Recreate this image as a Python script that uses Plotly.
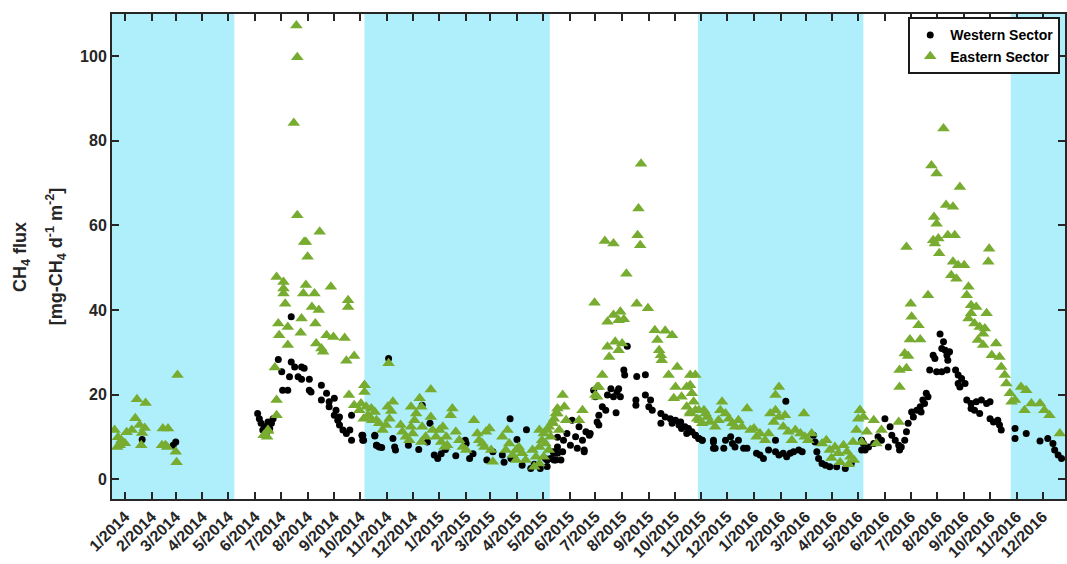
import pandas as pd
import plotly.graph_objects as go

# ---------------- data ----------------
# sampling day = days since 1 Jan 2014, flux in mg-CH4 d-1 m-2
ORIGIN = "2014-01-01"

west_2014a = [(20, 9.4), (59, 8.8), (56, 8.0)]
east_2014a = [(-12, 11.6), (-8, 9.9), (-4, 9.2), (0, 8.5), (-6, 8.0), (2, 11.1), (-9, 7.6),
              (14, 18.9), (24, 18.0), (12, 14.4), (17, 12.8), (23, 12.1), (8, 11.6), (20, 10.9),
              (19, 8.0), (44, 12.0), (50, 12.0), (43, 8.0), (47, 8.0), (49, 7.6), (59, 6.5),
              (60, 4.0), (61, 24.6)]

west_2014s = [(193, 38.4), (178, 28.3), (193, 27.7), (197, 26.5), (205, 26.5), (208, 26.2),
              (182, 25.4), (191, 24.2), (201, 24.2), (205, 23.6), (214, 23.6), (183, 21.0),
              (189, 21.0), (214, 21.0), (216, 20.6), (228, 22.2), (234, 20.3), (228, 18.7),
              (237, 18.3), (243, 19.1), (237, 17.1), (243, 15.1), (247, 13.9), (249, 12.8),
              (253, 11.6), (257, 10.8), (261, 11.6), (263, 15.1), (245, 16.3), (249, 14.7),
              (263, 9.2), (276, 10.4), (276, 9.2), (290, 10.4), (292, 8.0), (154, 15.5),
              (156, 14.3), (158, 13.2), (162, 12.4), (166, 13.5), (170, 13.2), (168, 12.0),
              (160, 11.6), (172, 14.3), (164, 10.8)]
east_2014s = [(199, 107.3), (200, 99.8), (196, 84.2), (200, 62.4), (226, 58.5), (208, 56.1),
              (210, 56.1), (212, 52.6), (176, 47.8), (184, 46.6), (184, 45.1), (184, 43.9),
              (210, 45.9), (207, 43.9), (220, 43.9), (239, 45.5), (259, 42.3), (259, 40.7),
              (186, 41.5), (217, 40.7), (225, 40.0), (178, 36.8), (189, 36.0), (179, 34.0),
              (205, 38.0), (221, 36.8), (204, 34.6), (189, 31.7), (222, 32.1), (228, 30.9),
              (230, 30.1), (234, 34.0), (242, 33.6), (255, 33.4), (257, 28.0), (266, 29.1),
              (174, 26.4), (176, 18.7), (176, 15.1), (166, 11.4), (165, 10.0), (161, 10.4),
              (166, 11.6), (260, 19.9), (278, 22.2), (266, 17.5), (272, 16.3), (282, 15.1),
              (287, 13.9)]

west_2015w = [(306, 28.5), (275, 10.4), (277, 9.2), (290, 10.2), (292, 8.0), (295, 7.6),
              (298, 7.5), (311, 9.6), (313, 7.6), (314, 6.9), (329, 8.0), (341, 7.0),
              (345, 17.5), (351, 8.8), (359, 5.7), (363, 4.9), (354, 13.2), (395, 9.2),
              (396, 8.4), (400, 4.9), (427, 6.5), (447, 14.3), (466, 11.7), (455, 9.4),
              (438, 5.7), (448, 4.9), (461, 3.3), (471, 2.5), (482, 2.5), (488, 4.9),
              (498, 4.5), (502, 6.1), (502, 9.9), (367, 6.0), (372, 7.0), (384, 5.5),
              (404, 6.0), (420, 4.5), (440, 4.0), (475, 3.5), (490, 3.0)]
east_2015w = [(278, 22.2), (278, 20.6), (274, 17.9), (280, 17.1), (286, 16.7), (290, 15.9),
              (284, 14.7), (292, 13.9), (277, 14.3), (295, 13.2), (299, 11.6), (303, 12.8),
              (307, 14.3), (309, 16.1), (311, 18.3), (305, 17.1), (306, 27.4), (320, 12.8),
              (322, 11.2), (326, 10.0), (330, 9.2), (334, 10.8), (332, 12.4), (336, 13.9),
              (338, 15.5), (332, 17.1), (342, 19.1), (344, 17.1), (345, 12.4), (349, 10.0),
              (344, 8.8), (355, 21.2), (355, 14.7), (357, 11.6), (361, 10.0), (367, 8.8),
              (365, 11.6), (369, 12.4), (373, 10.0), (374, 8.0), (371, 7.6), (380, 16.7),
              (378, 15.1), (384, 11.2), (388, 9.2), (392, 7.6), (396, 6.9), (405, 13.9),
              (409, 10.8), (411, 9.2), (415, 8.4), (419, 11.2), (423, 12.0), (417, 7.6),
              (425, 6.9), (427, 4.1), (438, 10.0), (444, 11.6), (446, 8.4), (442, 6.9),
              (450, 5.7), (454, 6.9), (457, 7.6), (461, 6.1), (465, 4.5), (454, 4.5),
              (473, 6.9), (477, 5.3), (481, 3.7), (475, 2.9), (481, 11.6), (486, 10.8),
              (492, 12.4), (496, 13.2), (498, 14.3), (500, 15.5), (502, 16.7), (494, 10.0),
              (488, 8.4)]

west_2015s = [(583, 31.4), (579, 25.8), (580, 24.6), (594, 24.3), (604, 24.7), (564, 21.4),
              (573, 21.4), (560, 19.9), (567, 19.5), (575, 19.5), (571, 20.6), (544, 21.0),
              (546, 19.5), (604, 19.9), (610, 18.7), (608, 17.1), (612, 16.3), (593, 18.7),
              (593, 17.5), (554, 17.1), (558, 16.3), (550, 15.1), (548, 13.5), (550, 12.8),
              (570, 15.7), (622, 15.5), (627, 14.7), (633, 14.3), (639, 13.9), (635, 13.2),
              (643, 12.8), (646, 12.0), (650, 12.4), (656, 11.2), (662, 10.4), (666, 9.6),
              (670, 9.2), (622, 13.2), (645, 13.5), (652, 10.8), (519, 13.9), (527, 12.4),
              (535, 11.2), (513, 10.8), (523, 10.0), (531, 9.2), (539, 10.4), (509, 9.2),
              (517, 8.0), (525, 7.3), (502, 7.6), (508, 6.5), (498, 6.1), (494, 4.9),
              (490, 4.5), (506, 4.5), (533, 6.5), (540, 10.8), (683, 8.8), (683, 7.3),
              (533, 6.9), (497, 6.5), (500, 4.5)]
east_2015s = [(599, 74.6), (596, 64.0), (557, 56.3), (567, 55.7), (595, 57.7), (598, 55.3),
              (582, 48.6), (545, 41.7), (594, 41.5), (607, 40.4), (560, 37.2), (567, 38.8),
              (575, 39.6), (579, 37.8), (573, 37.6), (615, 35.2), (627, 35.1), (635, 34.0),
              (618, 32.9), (620, 30.5), (623, 28.1), (622, 29.3), (560, 31.3), (569, 32.5),
              (577, 32.1), (562, 28.9), (573, 30.5), (554, 24.6), (550, 21.8), (548, 19.5),
              (641, 26.5), (631, 24.6), (656, 24.6), (639, 21.8), (652, 21.8), (637, 19.1),
              (646, 19.5), (652, 17.1), (656, 15.5), (666, 16.3), (674, 15.5), (667, 13.9),
              (508, 19.9), (510, 17.1), (502, 15.5), (496, 13.5), (490, 11.6), (484, 9.2),
              (481, 7.6), (531, 16.3), (527, 13.9), (512, 13.9), (504, 11.6), (492, 6.9),
              (486, 5.3), (546, 19.9), (548, 21.8)]

west_2016w = [(654, 12.0), (658, 11.2), (662, 10.4), (666, 9.6), (670, 9.2), (683, 9.2),
              (685, 7.3), (695, 7.3), (697, 9.2), (703, 10.0), (705, 8.4), (708, 7.6),
              (712, 9.2), (718, 7.3), (722, 7.3), (767, 18.4), (733, 6.1), (737, 5.7),
              (741, 4.9), (747, 6.9), (755, 6.5), (759, 5.7), (764, 6.1), (768, 5.3),
              (772, 6.1), (776, 6.5), (782, 6.9), (786, 6.5), (799, 10.4), (801, 8.8),
              (803, 6.5), (805, 4.9), (809, 3.7), (813, 3.3), (818, 2.9), (826, 2.9),
              (836, 2.5), (843, 3.7), (855, 9.2), (859, 6.9), (755, 9.2)]
east_2016w = [(662, 24.6), (656, 22.2), (658, 20.3), (660, 18.3), (662, 16.3), (664, 14.3),
              (656, 15.9), (672, 16.3), (676, 14.7), (670, 13.2), (679, 13.5), (685, 12.4),
              (689, 13.9), (691, 16.3), (693, 18.3), (697, 15.5), (701, 14.3), (705, 13.2),
              (708, 12.4), (712, 13.9), (716, 12.4), (722, 16.7), (726, 11.6), (730, 12.0),
              (733, 10.0), (737, 10.8), (743, 9.2), (747, 10.8), (759, 21.8), (755, 19.9),
              (749, 15.5), (755, 16.3), (759, 14.7), (753, 13.5), (766, 15.1), (764, 12.4),
              (770, 11.2), (774, 9.2), (778, 11.6), (784, 10.8), (788, 15.5), (789, 10.0),
              (793, 9.2), (797, 10.8), (809, 8.4), (814, 9.2), (818, 6.9), (824, 7.6),
              (828, 6.1), (834, 8.0), (838, 6.5), (842, 5.3), (845, 8.8), (849, 11.6),
              (851, 14.3), (853, 16.3), (820, 5.0), (830, 4.0), (840, 3.5), (846, 4.5)]

west_2016s = [(946, 34.3), (950, 32.5), (948, 30.9), (952, 30.5), (954, 29.3), (957, 30.1),
              (938, 29.3), (940, 28.5), (955, 28.1), (934, 25.8), (942, 25.4), (948, 25.4),
              (954, 25.8), (964, 25.8), (967, 24.6), (971, 23.8), (975, 22.6), (967, 22.6),
              (969, 21.8), (977, 18.7), (982, 17.9), (988, 18.3), (994, 18.7), (1000, 17.9),
              (1004, 18.3), (982, 16.7), (992, 15.5), (986, 16.3), (1004, 14.3), (1008, 13.5),
              (1013, 13.9), (1015, 12.8), (1017, 11.6), (1033, 12.0), (1046, 10.8), (1033, 9.6),
              (1062, 9.0), (1071, 9.6), (1077, 8.4), (1079, 6.9), (1083, 5.7), (1087, 4.9),
              (932, 19.5), (926, 18.7), (928, 17.9), (923, 17.1), (919, 16.3), (915, 14.7),
              (913, 15.9), (924, 15.9), (930, 20.3), (882, 14.3), (888, 12.4), (890, 10.4),
              (894, 9.2), (898, 8.0), (901, 7.6), (905, 9.2), (907, 11.2), (909, 13.2),
              (874, 10.0), (878, 9.2), (869, 8.4), (863, 7.6), (855, 6.9), (857, 8.4),
              (886, 7.6), (899, 6.9)]
east_2016s = [(950, 82.9), (936, 74.2), (942, 72.3), (969, 69.1), (953, 64.8), (961, 64.4),
              (939, 62.0), (942, 60.4), (955, 57.7), (963, 57.7), (938, 56.5), (944, 56.9),
              (940, 55.7), (907, 54.9), (1003, 54.5), (1002, 51.4), (945, 53.4), (961, 51.4),
              (967, 50.6), (974, 50.6), (959, 48.2), (965, 47.4), (979, 45.5), (977, 43.5),
              (982, 41.1), (988, 40.7), (982, 39.2), (979, 38.0), (986, 36.8), (992, 36.0),
              (998, 35.6), (1000, 39.2), (996, 34.4), (990, 32.9), (996, 31.7), (1011, 32.1),
              (1006, 29.3), (1015, 28.9), (1017, 26.5), (1021, 24.6), (1023, 22.6), (1027, 20.3),
              (1029, 18.3), (1040, 21.8), (1046, 21.0), (1052, 17.9), (1062, 17.9), (1067, 16.3),
              (1073, 15.1), (1044, 16.3), (1033, 18.7), (932, 43.5), (912, 41.5), (913, 38.4),
              (921, 36.4), (911, 33.0), (923, 33.0), (905, 29.7), (909, 29.1), (899, 25.8),
              (907, 26.2), (899, 21.8), (853, 16.3), (857, 14.7), (861, 11.2), (869, 13.9),
              (872, 8.4), (878, 11.6), (898, 13.5), (855, 8.8), (1085, 10.8)]

# ice-cover (shaded) periods
winter_start = ["2013-12-01", "2014-10-06", "2015-10-28", "2016-10-25"]
winter_end = ["2014-05-08", "2015-05-09", "2016-05-07", "2017-01-31"]

x_range = ["2013-12-17", "2016-12-27"]
y_range = [-4.7, 110]
y_ticks = [0, 20, 40, 60, 80, 100]

y_title_lines = ["CH<sub>4</sub> flux",
                 "[mg-CH<sub>4</sub> d<sup>-1</sup> m<sup>-2</sup>]"]

# ---------------- build ----------------
def to_xy(*groups):
    pts = [p for g in groups for p in g]
    days = [p[0] for p in pts]
    vals = [p[1] for p in pts]
    dates = pd.Timestamp(ORIGIN) + pd.to_timedelta(days, unit="D")
    return dates, vals

wx, wy = to_xy(west_2014a, west_2014s, west_2015w, west_2015s, west_2016w, west_2016s)
ex, ey = to_xy(east_2014a, east_2014s, east_2015w, east_2015s, east_2016w, east_2016s)

GREEN = "#77AC30"
BLUE = "#AEEFFB"
FONT = "Arial, Liberation Sans, Helvetica, sans-serif"
DARK = "#262626"

fig = go.Figure()
fig.add_trace(go.Scatter(x=wx, y=wy, mode="markers", name="Western Sector",
                         marker=dict(symbol="circle", size=7, color="black",
                                     line=dict(width=0))))
fig.add_trace(go.Scatter(x=ex, y=ey, mode="markers", name="Eastern Sector",
                         marker=dict(symbol="triangle-up", size=11, color=GREEN,
                                     line=dict(width=0))))

for s, e in zip(winter_start, winter_end):
    fig.add_shape(type="rect", xref="x", yref="paper", x0=s, x1=e, y0=0, y1=1,
                  fillcolor=BLUE, line=dict(width=0), layer="below")

# two-line y-axis title, placed like the reference
for txt, xpos in zip(y_title_lines, [-0.095, -0.059]):
    fig.add_annotation(text=txt, xref="paper", yref="paper", x=xpos, y=0.5,
                       xanchor="center", yanchor="middle", textangle=-90,
                       showarrow=False,
                       font=dict(family=FONT, size=18, color=DARK, weight="bold"))

fig.update_layout(
    width=1067, height=564,
    margin=dict(l=112, r=0, t=14, b=65),
    paper_bgcolor="white", plot_bgcolor="white",
    font=dict(family=FONT, size=16, color=DARK, weight="bold"),
    showlegend=True,
    legend=dict(x=0.995, y=0.993, xanchor="right", yanchor="top",
                bgcolor="white", bordercolor="#1a1a1a", borderwidth=2,
                font=dict(family=FONT, size=14, color="black", weight="bold"),
                tracegroupgap=0, itemsizing="trace", itemwidth=30),
)

fig.update_xaxes(
    type="date", range=x_range,
    tick0="2014-01-01", dtick="M1", tickformat="%-m/%Y",
    tickangle=-45, ticks="inside", ticklen=7, tickwidth=2, tickcolor=DARK,
    showline=True, linecolor=DARK, linewidth=2, mirror="ticks",
    showgrid=False, zeroline=False,
    tickfont=dict(family=FONT, size=16, color=DARK, weight="bold"),
)
fig.update_yaxes(
    range=y_range, tickvals=y_ticks,
    ticks="inside", ticklen=7, tickwidth=2, tickcolor=DARK,
    showline=True, linecolor=DARK, linewidth=2, mirror="ticks",
    showgrid=False, zeroline=False,
    tickfont=dict(family=FONT, size=16, color=DARK, weight="bold"),
)

fig.write_html("out.html")
